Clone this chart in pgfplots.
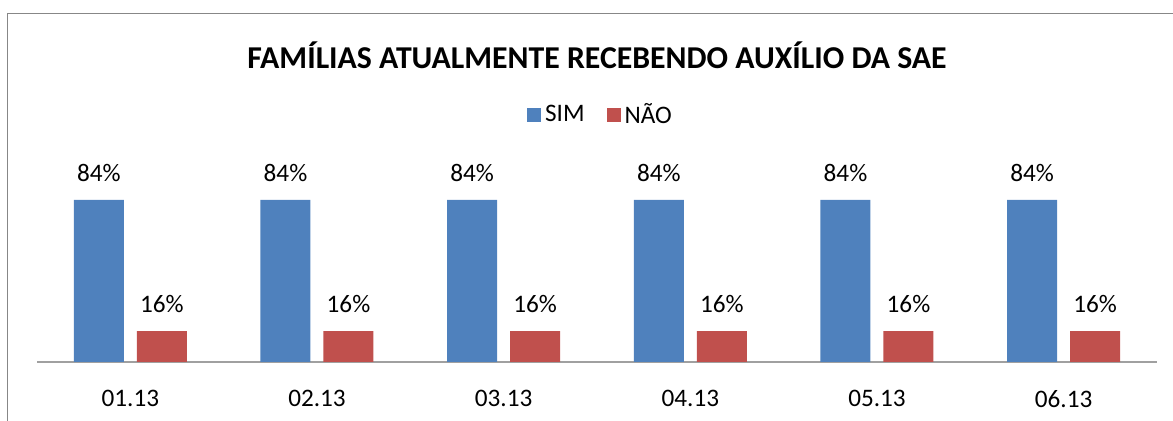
\documentclass[border=0pt]{standalone}
\usepackage{pgfplots}
\pgfplotsset{compat=1.18}
\usepackage{fontspec}
\setmainfont{Carlito}
\definecolor{simblue}{HTML}{4F81BD}
\definecolor{naored}{HTML}{C0504D}
\definecolor{framegray}{HTML}{878787}
\definecolor{basegray}{HTML}{A0A0A0}
\begin{document}
\begin{tikzpicture}
\path[use as bounding box] (0,0) rectangle (586.5pt,210.5pt);
\draw[framegray, line width=0.7pt] (3.75pt,0) -- (3.75pt,203.75pt) -- (586.5pt,203.75pt);
\node[font=\fontsize{15.9pt}{18pt}\selectfont\bfseries] at (298.5pt,183pt) {FAMÍLIAS ATUALMENTE RECEBENDO AUXÍLIO DA SAE};
\begin{axis}[
  at={(18.5pt,29.5pt)}, anchor=south west,
  scale only axis, width=560pt, height=96.5pt,
  ybar=6.5pt, bar width=25pt,
  xmin=-0.5, xmax=5.5, ymin=0, ymax=100,
  axis x line=bottom, axis y line=none,
  x axis line style={-, draw=basegray, line width=0.65pt},
  xtick=data, xtick style={draw=none}, major tick length=0pt,
  xticklabels={01.13,02.13,03.13,04.13,05.13,06.13},
  xticklabel style={font=\fontsize{12.6pt}{15pt}\selectfont, inner sep=0pt, yshift=-14pt},
  /pgf/number format/assume math mode=true,
  nodes near coords={\pgfmathprintnumber{\pgfplotspointmeta}\%},
  nodes near coords style={font=\fontsize{12.6pt}{15pt}\selectfont, anchor=south, inner sep=0pt, yshift=9pt, text=black},
  legend style={at={(0.504,1.28)}, anchor=center, draw=none, fill=none,
    font=\fontsize{12.6pt}{14pt}\selectfont, legend columns=2,
    /tikz/every even column/.append style={column sep=9pt}},
  legend cell align=left,
]
\addplot[fill=simblue, draw=none, legend image code/.code={\fill[simblue] (0pt,-3.5pt) rectangle (7pt,3.5pt);}] coordinates {(0,84) (1,84) (2,84) (3,84) (4,84) (5,84)};
\addplot[fill=naored, draw=none, legend image code/.code={\fill[naored] (0pt,-3.5pt) rectangle (7pt,3.5pt);}] coordinates {(0,16) (1,16) (2,16) (3,16) (4,16) (5,16)};
\legend{SIM, NÃO}
\end{axis}
\end{tikzpicture}
\end{document}
